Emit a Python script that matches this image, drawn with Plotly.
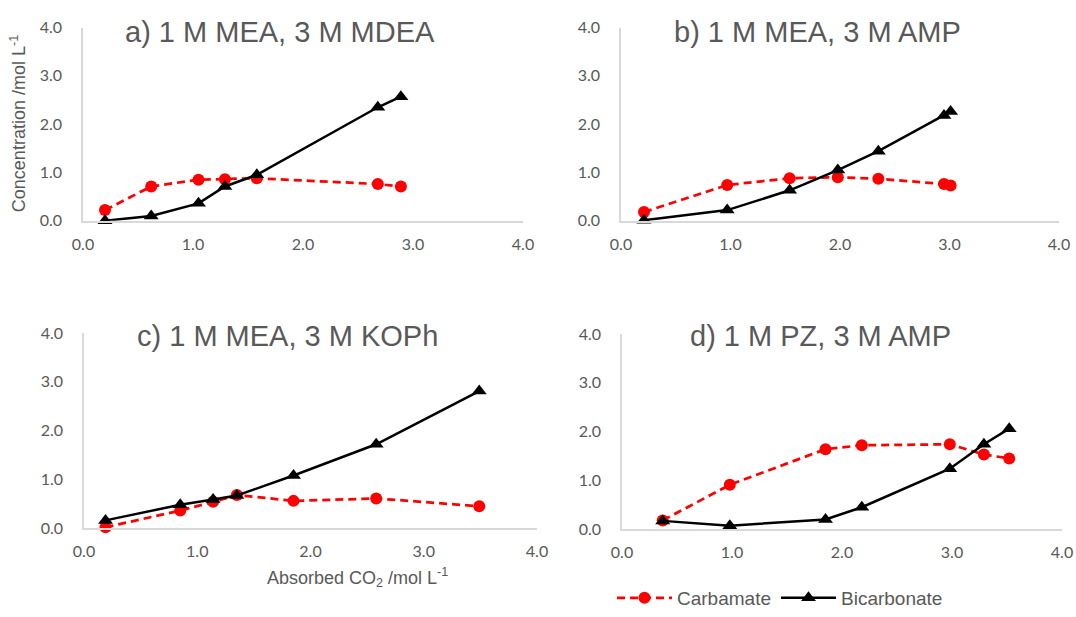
import plotly.graph_objects as go

W, H = 1076, 617

# ---- data ----
panel_titles = ["a) 1 M MEA, 3 M MDEA", "b) 1 M MEA, 3 M AMP",
                "c) 1 M MEA, 3 M KOPh", "d) 1 M PZ, 3 M AMP"]

a_x = [0.20, 0.62, 1.05, 1.29, 1.58, 2.68, 2.89]
a_carbamate = [0.22, 0.71, 0.85, 0.86, 0.88, 0.76, 0.71]
a_bicarbonate = [0.00, 0.10, 0.36, 0.71, 0.95, 2.35, 2.57]

b_x = [0.21, 0.97, 1.54, 1.98, 2.35, 2.95, 3.01]
b_carbamate = [0.18, 0.74, 0.88, 0.90, 0.87, 0.76, 0.73]
b_bicarbonate = [0.01, 0.22, 0.63, 1.05, 1.44, 2.18, 2.26]

c_x = [0.19, 0.85, 1.14, 1.35, 1.85, 2.58, 3.49]
c_carbamate = [0.02, 0.36, 0.54, 0.68, 0.56, 0.61, 0.45]
c_bicarbonate = [0.16, 0.48, 0.59, 0.67, 1.08, 1.72, 2.81]

d_x = [0.37, 0.98, 1.85, 2.18, 2.98, 3.29, 3.52]
d_carbamate = [0.18, 0.91, 1.64, 1.72, 1.74, 1.53, 1.45]
d_bicarbonate = [0.17, 0.07, 0.20, 0.45, 1.24, 1.74, 2.06]

tick_vals = [0, 1, 2, 3, 4]
tick_text = ["0.0", "1.0", "2.0", "3.0", "4.0"]

series_names = ["Carbamate", "Bicarbonate"]
# ---------------

# plot areas in pixels: (x0, x1, ytop, ybottom)
areas = [(83, 523, 28, 224), (621, 1059, 28, 224),
         (84, 537, 338, 536), (622, 1062, 339, 537)]
title_pos = [(280, 32), (817, 32), (287, 341), (820, 341)]

datasets = [(a_x, a_carbamate, a_bicarbonate), (b_x, b_carbamate, b_bicarbonate),
            (c_x, c_carbamate, c_bicarbonate), (d_x, d_carbamate, d_bicarbonate)]

fig = go.Figure()
gray_axis = "#d9d9d9"
txt = "#595959"

for i, ((x0, x1, yt, yb), (xs, carb, bic)) in enumerate(zip(areas, datasets)):
    n = "" if i == 0 else str(i + 1)
    xa, ya = "x" + n, "y" + n
    fig.add_trace(go.Scatter(x=xs, y=carb, mode="lines+markers", xaxis=xa, yaxis=ya,
                             name=series_names[0], showlegend=(i == 0), cliponaxis=False,
                             line=dict(color="#ff0000", width=2.75, dash="8px,5px"),
                             marker=dict(symbol="circle", size=12, color="#ff0000")))
    fig.add_trace(go.Scatter(x=xs, y=bic, mode="lines+markers", xaxis=xa, yaxis=ya,
                             name=series_names[1], showlegend=(i == 0), cliponaxis=False,
                             line=dict(color="#000000", width=2.5),
                             marker=dict(symbol="triangle-up", size=13, color="#000000")))
    axcommon = dict(range=[0, 4], tickvals=tick_vals, ticktext=tick_text, showgrid=False,
                    zeroline=False, showline=True, linecolor=gray_axis, linewidth=1.5,
                    ticks="", tickfont=dict(family="Lato, Liberation Sans", size=16, color=txt),
                    fixedrange=True, automargin=False)
    fig.update_layout(**{
        "xaxis" + n: dict(domain=[x0 / W, x1 / W], anchor=ya, ticklabelstandoff=8, **axcommon),
        "yaxis" + n: dict(domain=[1 - yb / H, 1 - yt / H], anchor=xa, ticklabelstandoff=16,
                          **axcommon),
    })
    tx, ty = title_pos[i]
    fig.add_annotation(text=panel_titles[i], x=tx / W, y=1 - ty / H, xref="paper", yref="paper",
                       showarrow=False, xanchor="center", yanchor="middle",
                       font=dict(family="Liberation Sans, Arial", size=29, color=txt))

fig.add_annotation(text="Concentration /mol L<sup>-1</sup>", x=18 / W, y=1 - 126 / H,
                   xref="paper", yref="paper", showarrow=False, textangle=-90,
                   xanchor="center", yanchor="middle",
                   font=dict(family="Liberation Sans, Arial", size=18, color=txt))
fig.add_annotation(text="Absorbed CO<sub>2</sub> /mol L<sup>-1</sup>", x=357 / W, y=1 - 586 / H,
                   xref="paper", yref="paper", showarrow=False,
                   xanchor="center", yanchor="middle",
                   font=dict(family="Liberation Sans, Arial", size=18, color=txt))

fig.update_layout(
    width=W, height=H, margin=dict(l=0, r=0, t=0, b=0),
    plot_bgcolor="white", paper_bgcolor="white",
    legend=dict(orientation="h", x=612 / W, y=1 - 607 / H, xanchor="left", yanchor="middle",
                font=dict(family="Liberation Sans, Arial", size=19, color=txt),
                itemwidth=55, traceorder="normal", bgcolor="rgba(0,0,0,0)"),
)

fig.write_html("out.html", config={"displayModeBar": False},
               post_script="document.body.style.margin='0';")
